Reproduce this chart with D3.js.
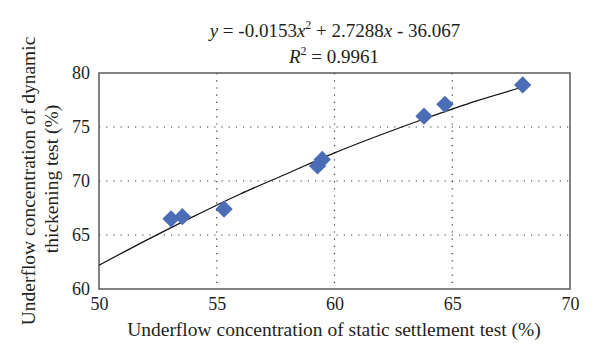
<!DOCTYPE html>
<html><head><meta charset="utf-8">
<script src="https://cdn.jsdelivr.net/npm/d3@7"></script>
<style>body{margin:0;background:#fff}</style>
</head><body><svg id="c" width="600" height="361"></svg>
<script>
const staticConc = [53.06, 53.54, 55.31, 59.28, 59.48, 63.8, 64.69, 67.99];
const dynamicConc = [66.5, 66.7, 67.4, 71.4, 72.0, 76.0, 77.1, 78.9];
const trendX = [50, 52, 54, 56, 58, 60, 62, 64, 66, 68];
const trendY = [62.2, 64.5, 66.7, 68.8, 70.7, 72.6, 74.3, 75.9, 77.4, 78.7];
const xTicks = [50, 55, 60, 65, 70];
const yTicks = [60, 65, 70, 75, 80];
const xTitle = "Underflow concentration of static settlement test (%)";
const yTitle = ["Underflow concentration of dynamic", "thickening test (%)"];

const FONT = '"Liberation Serif"';
const INK = "#231f20";
const svg = d3.select("#c");
const L = 99, R = 570, T = 73, B = 289;
const x = d3.scaleLinear().domain([50, 70]).range([L, R]);
const y = d3.scaleLinear().domain([60, 80]).range([B, T]);

// grid
svg.append("g").selectAll("line").data(xTicks.slice(1, -1)).join("line")
  .attr("x1", d => x(d)).attr("x2", d => x(d)).attr("y1", T).attr("y2", B)
  .attr("stroke", "#333").attr("stroke-width", 1.2).attr("stroke-dasharray", "1.2,6");
svg.append("g").selectAll("line").data(yTicks.slice(1, -1)).join("line")
  .attr("y1", d => y(d)).attr("y2", d => y(d)).attr("x1", L).attr("x2", R)
  .attr("stroke", "#333").attr("stroke-width", 1.2).attr("stroke-dasharray", "1.2,6");

// frame
svg.append("rect").attr("x", L).attr("y", T).attr("width", R - L).attr("height", B - T)
  .attr("fill", "none").attr("stroke", "#58595b").attr("stroke-width", 1.5);

// axes labels
const xa = svg.append("g").attr("transform", `translate(0,${B})`)
  .call(d3.axisBottom(x).tickValues(xTicks).tickSize(0).tickPadding(8));
const ya = svg.append("g").attr("transform", `translate(${L},0)`)
  .call(d3.axisLeft(y).tickValues(yTicks).tickSize(0).tickPadding(9));
[xa, ya].forEach(a => { a.attr("font-family", null).attr("font-size", null);
  a.select(".domain").remove();
  a.selectAll("text").style("font-family", FONT).style("font-size", "18px").attr("fill", INK); });

// trend line
svg.append("path").datum(trendX.map((d, i) => [d, trendY[i]]))
  .attr("d", d3.line().x(d => x(d[0])).y(d => y(d[1])).curve(d3.curveCatmullRom))
  .attr("fill", "none").attr("stroke", "#111").attr("stroke-width", 1.2);

// points
svg.selectAll(".pt").data(staticConc).join("path")
  .attr("d", d3.symbol(d3.symbolSquare, 150)())
  .attr("transform", (d, i) => `translate(${x(d)},${y(dynamicConc[i])}) rotate(45)`)
  .attr("fill", "#4a6db5");

function txt(size) { return svg.append("text").attr("fill", INK).style("font-family", FONT).style("font-size", size + "px"); }

// equation
const eq = txt(19).attr("x", 335).attr("y", 37).attr("text-anchor", "middle");
eq.append("tspan").text("y").style("font-style", "italic");
eq.append("tspan").text(" = -0.0153");
eq.append("tspan").text("x").style("font-style", "italic");
eq.append("tspan").text("2").attr("dy", -8).style("font-size", "12px");
eq.append("tspan").text(" + 2.7288").attr("dy", 8);
eq.append("tspan").text("x").style("font-style", "italic");
eq.append("tspan").text(" - 36.067");
const r2 = txt(19).attr("x", 334).attr("y", 63).attr("text-anchor", "middle");
r2.append("tspan").text("R").style("font-style", "italic");
r2.append("tspan").text("2").attr("dy", -8).style("font-size", "12px");
r2.append("tspan").text(" = 0.9961").attr("dy", 8);

// titles
txt(19.5).attr("x", 334).attr("y", 336).attr("text-anchor", "middle").text(xTitle);
txt(19.5).attr("transform", "translate(35,181) rotate(-90)").attr("text-anchor", "middle").text(yTitle[0]);
txt(19.5).attr("transform", "translate(58,179) rotate(-90)").attr("text-anchor", "middle").text(yTitle[1]);
</script></body></html>
